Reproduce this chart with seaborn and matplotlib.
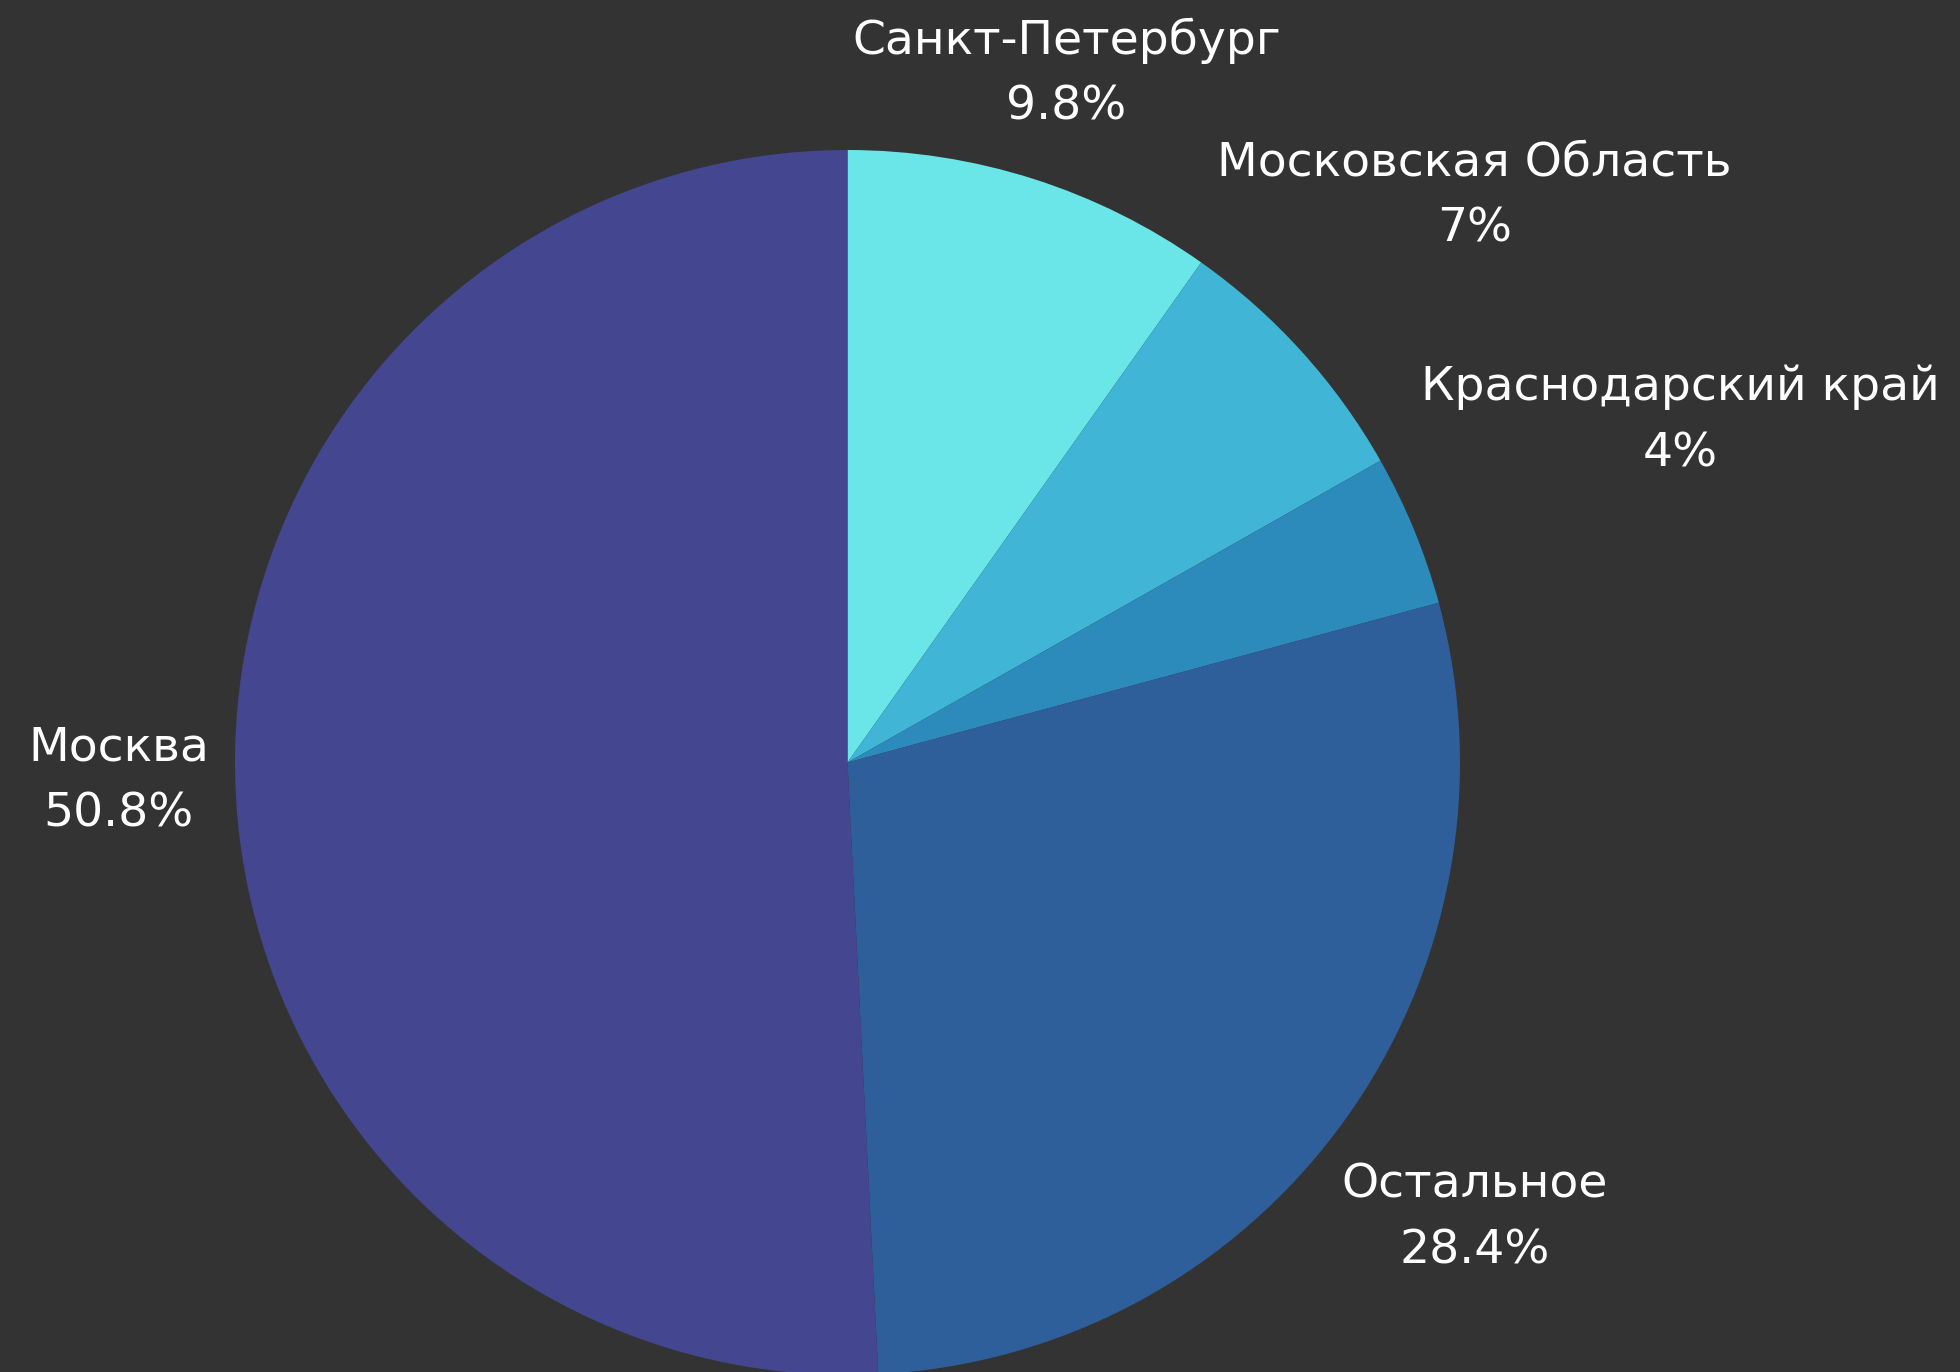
import numpy as np
import matplotlib
matplotlib.use("Agg")
import matplotlib.pyplot as plt
import seaborn as sns

# Share of the total by region
regions = ["Санкт-Петербург", "Московская Область", "Краснодарский край", "Остальное", "Москва"]
shares = [9.8, 7.0, 4.0, 28.4, 50.8]
share_labels = ["9.8%", "7%", "4%", "28.4%", "50.8%"]
slice_colors = ["#6ae6e8", "#41b5d6", "#2c8bba", "#2e5f9b", "#44478f"]

# radial distance of each label, in units of the pie radius
label_dist = [1.18, 1.38, 1.47, 1.265, 1.19]

BG = "#333333"
sns.set_theme(style="white")
plt.rcParams["font.family"] = ["DejaVu Sans"]

W, H, DPI = 1960, 1372, 100
fig = plt.figure(figsize=(W / DPI, H / DPI), dpi=DPI, facecolor=BG)
ax = fig.add_axes([0, 0, 1, 1])
ax.set_facecolor(BG)

# pie centre and radius in pixels
cx, cy, rad = 847.5, 762.5, 612.5

palette = sns.color_palette(slice_colors)
wedges, _ = ax.pie(shares, colors=palette, startangle=90, counterclock=False,
                   radius=1.0, center=(0, 0), frame=True,
                   wedgeprops=dict(linewidth=0))
ax.set_xlim(-cx / rad, (W - cx) / rad)
ax.set_ylim(-(H - cy) / rad, cy / rad)
ax.set_aspect("auto")
ax.set_axis_off()

total = sum(shares)
cum = np.cumsum([0] + shares[:-1])
for name, pct, start, val, d in zip(regions, share_labels, cum, shares, label_dist):
    mid = (start + val / 2) / total * 2 * np.pi  # clockwise from top
    x = d * np.sin(mid)
    y = d * np.cos(mid)
    ax.text(x, y, f"{name}\n{pct}", ha="center", va="center", color="white",
            fontsize=34, linespacing=1.6)

fig.savefig("out.png", dpi=DPI, facecolor=BG)
